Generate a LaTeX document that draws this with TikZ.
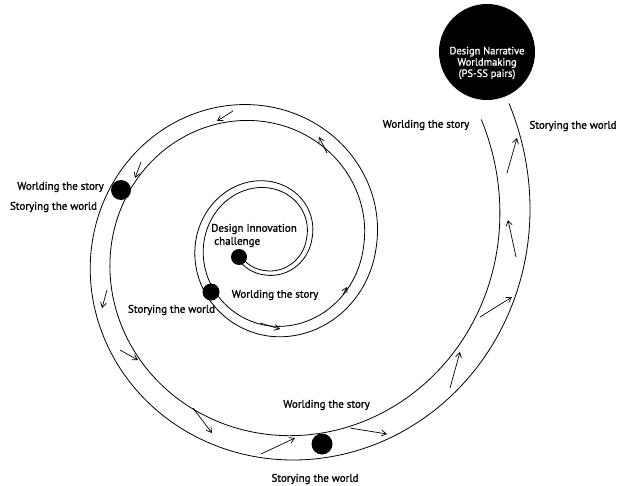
\documentclass[tikz,border=0pt]{standalone}
\usepackage{fontspec}
\setmainfont{PT Sans}[FakeBold=1.2]
\usetikzlibrary{arrows.meta}
\begin{document}
\begin{tikzpicture}[x=1pt,y=-1pt,
  lbl/.style={font=\fontsize{11}{13}\selectfont, inner sep=0pt},
  dot/.style={circle, fill=black, inner sep=0pt},
  flow/.style={-{Straight Barb[length=5pt,width=6pt]}, line width=0.7pt},
  band/.style={line width=0.8pt}]
\useasboundingbox (0,0) rectangle (617,486);
% spiral centre drifts slightly over the first turn
\tikzset{declare function={
  sr(\t)=45.3*exp(0.00236*\t);
  scx(\t)=264+5*(\t>0)*(\t<360)*sin(\t/2);
  scy(\t)=245-9*min(1,max(0,(270-\t)/360));
}}
% spiral band: inner and outer boundary
\draw[band] plot[domain=-140:750,samples=600,variable=\t]
  ({scx(\t)+0.94*sr(\t)*cos(\t)},{scy(\t)-0.94*sr(\t)*sin(\t)});
\draw[band] plot[domain=-140:750,samples=600,variable=\t]
  ({scx(\t)+1.06*sr(\t)*cos(\t)},{scy(\t)-1.06*sr(\t)*sin(\t)});
% arrows along the band
\draw[flow] (233,111) -- (217,121);
\draw[flow] (327,153) -- (319,137);
\draw[flow] (141,162) -- (135,178);
\draw[flow] (107,290) -- (102,308);
\draw[flow] (120,350) -- (138,360);
\draw[flow] (193,408) -- (212,433);
\draw[flow] (261,454) -- (295,438);
\draw[flow] (350,428) -- (387,434);
\draw[flow] (450,388) -- (460,352);
\draw[flow] (480,317) -- (512,297);
\draw[flow] (516,257) -- (508,220);
\draw[flow] (507,173) -- (517,138);
\draw[flow] (260,323) -- (280,329);
\draw[flow] (343,295) -- (347,287);
% dots
\node[dot, minimum size=16pt] (d0) at (239,257) {};
\node[dot, minimum size=17pt] (d1) at (211,292) {};
\node[dot, minimum size=20pt] (d2) at (121,190) {};
\node[dot, minimum size=21pt] (d3) at (322,444) {};
\node[dot, minimum size=96pt] (dn) at (487,52) {};
\node[font=\fontsize{10.5}{11.3}\selectfont, text=white, align=center, inner sep=0pt] (dnt) at (487,63)
  {Design Narrative\\Worldmaking\\(PS-SS pairs)};
% labels
\node[lbl, align=left, anchor=west] (dic) at (211,235.5) {Design Innovation\\\hspace*{3pt}challenge};
\node[lbl] (w1) at (275,295) {Worlding the story};
\node[lbl] (s1) at (171.5,310) {Storying the world};
\node[lbl] (w2) at (60.5,187) {Worlding the story};
\node[lbl] (s2) at (53.5,207) {Storying the world};
\node[lbl] (w3) at (326.5,405) {Worlding the story};
\node[lbl] (s3) at (315,479) {Storying the world};
\node[lbl] (w4) at (426,125) {Worlding the story};
\node[lbl] (s4) at (573,126) {Storying the world};
\end{tikzpicture}
\end{document}
